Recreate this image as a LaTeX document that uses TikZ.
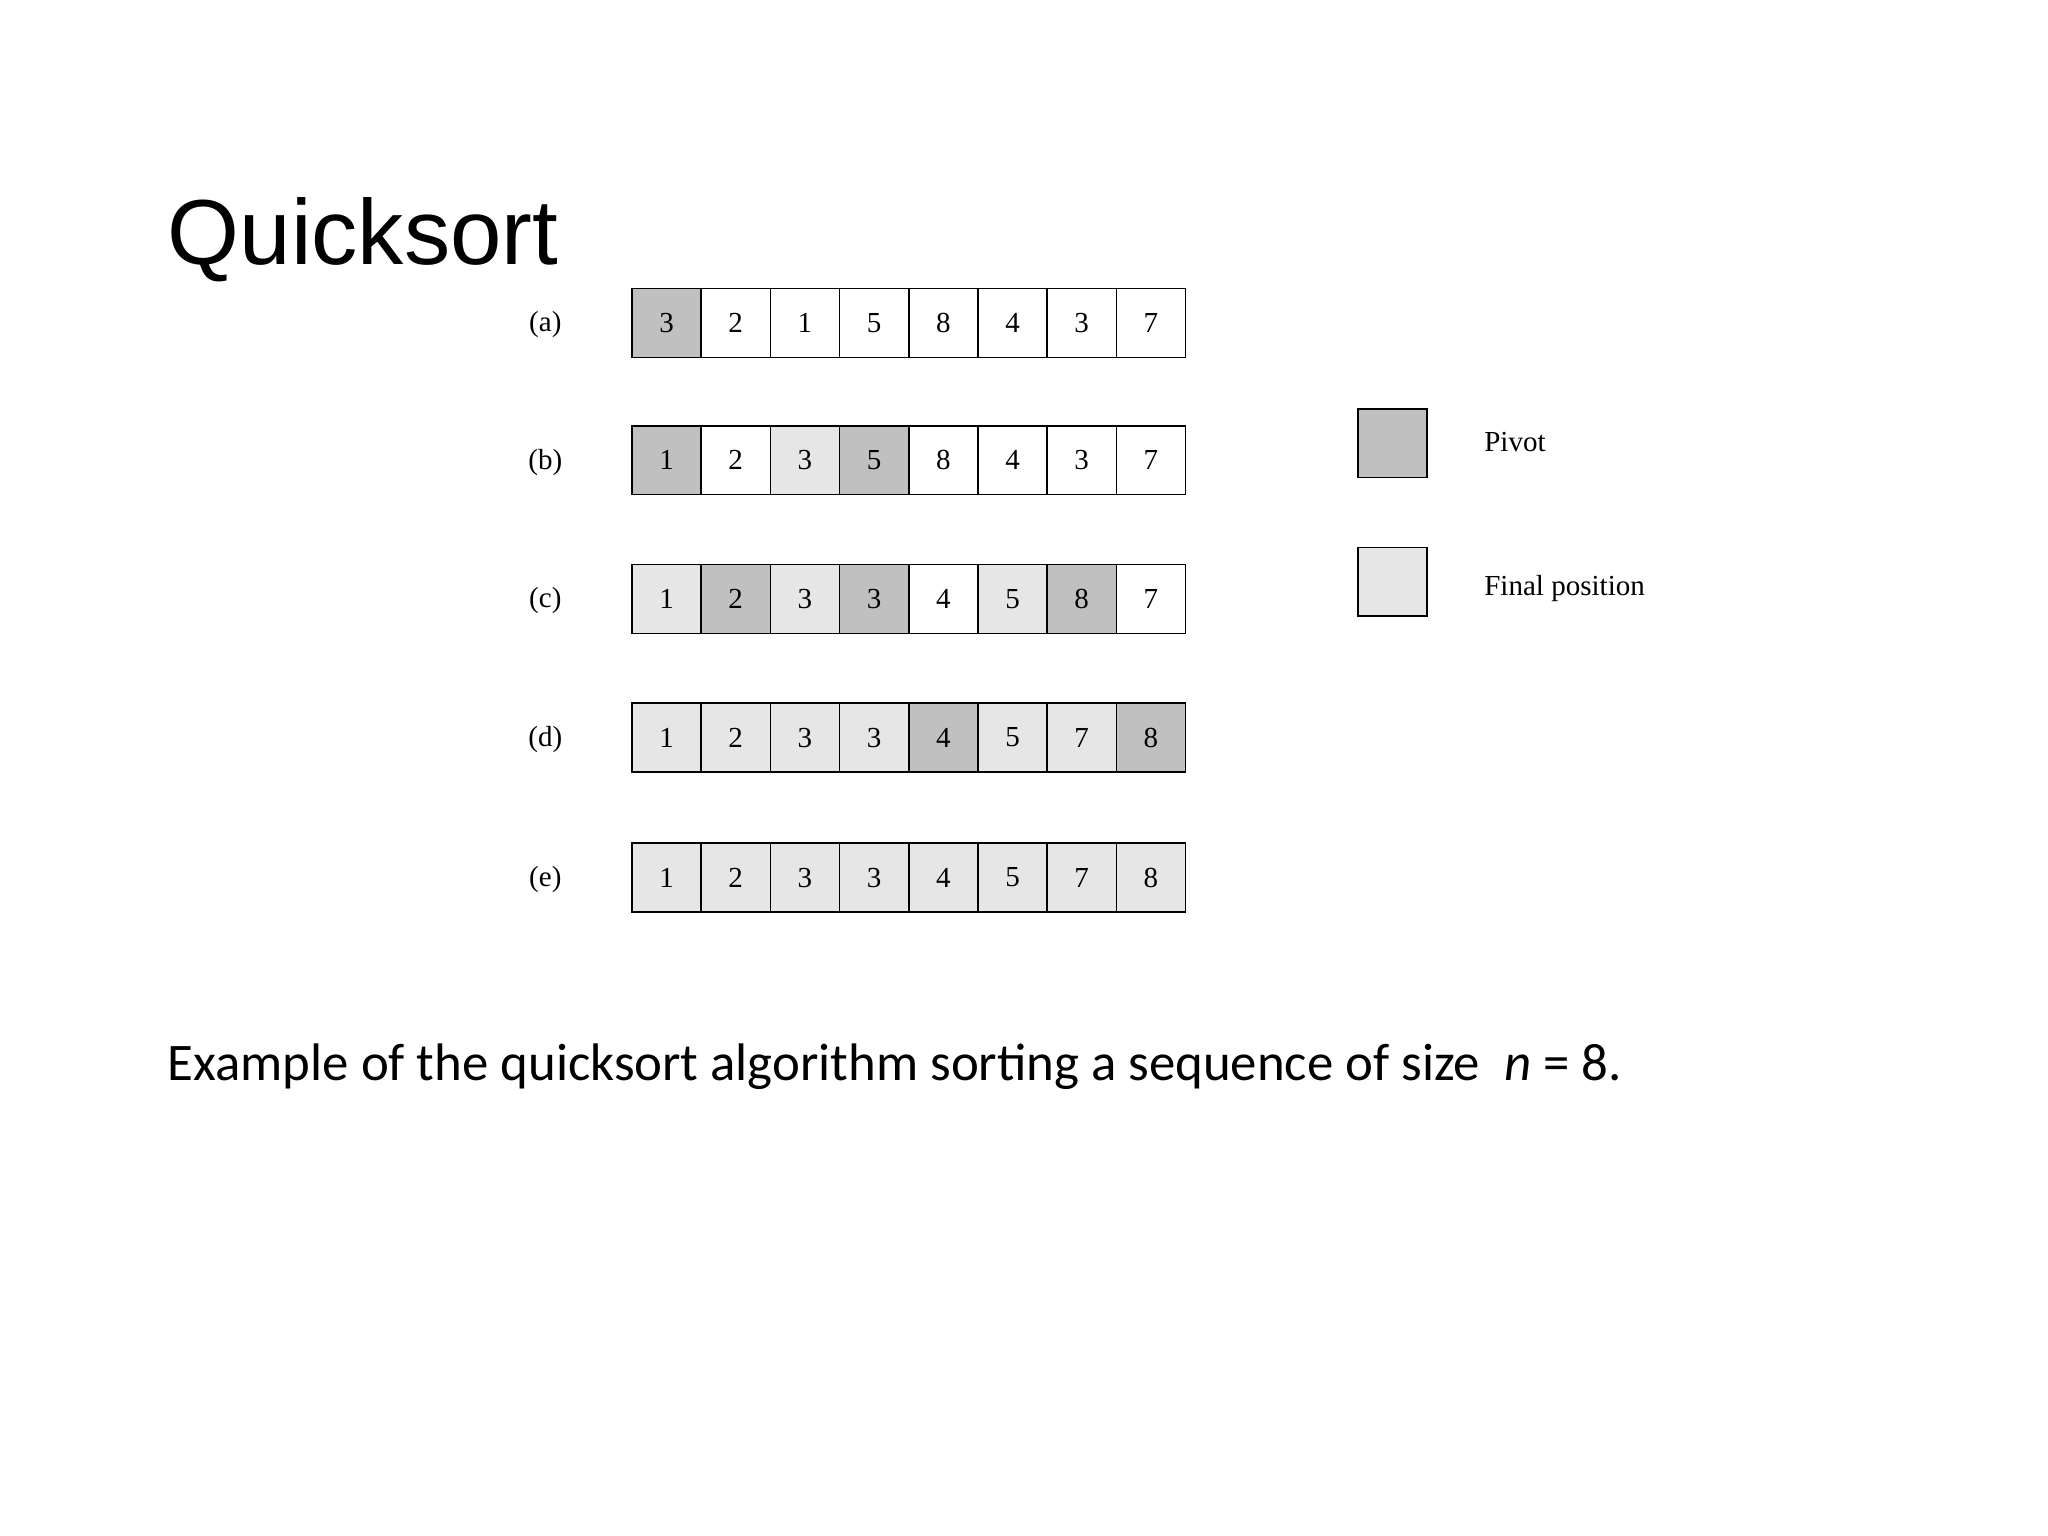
\documentclass[tikz,border=0pt]{standalone}
\usepackage{fontspec}
\setmainfont{Liberation Serif}
\newfontfamily\titlefont{Liberation Sans}
\newfontfamily\capfont{Carlito}
\begin{document}
\begin{tikzpicture}[x=0.5pt,y=-0.5pt]
\definecolor{piv}{HTML}{C0C0C0}
\definecolor{fin}{HTML}{E6E6E6}
\colorlet{W}{white}\colorlet{P}{piv}\colorlet{F}{fin}
\tikzset{cell/.style={draw,line width=0.6pt,minimum width=26.2pt,minimum height=26pt,inner sep=0pt,font=\fontsize{11}{11}\selectfont,anchor=north west},
 lbl/.style={font=\fontsize{11}{11}\selectfont}}
\useasboundingbox (0,0) rectangle (1551,1163);
\node[anchor=base west,font=\titlefont\fontsize{35}{35}\selectfont] (title) at (120,200) {Quicksort};
\foreach \r/\y/\vals in {a/218/{P/3,W/2,W/1,W/5,W/8,W/4,W/3,W/7},
  b/322/{P/1,W/2,F/3,P/5,W/8,W/4,W/3,W/7},
  c/427/{F/1,P/2,F/3,P/3,W/4,F/5,P/8,W/7},
  d/532/{F/1,F/2,F/3,F/3,P/4,F/5,F/7,P/8},
  e/638/{F/1,F/2,F/3,F/3,F/4,F/5,F/7,F/8}}{
  \node[lbl] (lab\r) at (413,\y+28) {(\r)};
  \foreach \k/\d [count=\i from 0] in \vals {
    \node[cell,fill=\k] (c\r\i) at (478+52.4*\i,\y) {\d};
  }
}
\node[cell,fill=piv,minimum width=26pt] (legp) at (1028,309) {};
\node[cell,fill=fin,minimum width=26pt] (legf) at (1028,414) {};
\node[lbl,anchor=west] (legpt) at (1117,335) {Pivot};
\node[lbl,anchor=west] (legft) at (1117,446) {Final position};
\node[anchor=base west,font=\capfont\fontsize{20}{20}\selectfont] (cap) at (120,818) {Example of the quicksort algorithm sorting a sequence of size \ \textit{n} = 8.};
\end{tikzpicture}
\end{document}
